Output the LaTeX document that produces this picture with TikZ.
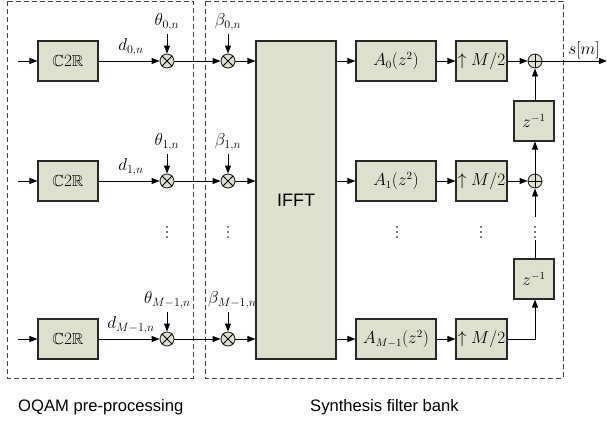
\documentclass[tikz,border=0pt]{standalone}
\usepackage{amssymb}
\usepackage{fontspec}
\setmainfont{Liberation Serif}
\setsansfont{Liberation Sans}
\usetikzlibrary{arrows.meta,calc}
\definecolor{boxfill}{RGB}{221,224,204}
\definecolor{boxline}{RGB}{40,40,40}
\tikzset{
  blk/.style={draw=boxline,fill=boxfill,line width=1.1pt,minimum height=40pt,inner sep=0pt,font=\fontsize{16}{18}\selectfont},
  mix/.style={draw=boxline,fill=boxfill,circle,line width=0.9pt,minimum size=14pt,inner sep=0pt},
  sig/.style={line width=0.9pt,-{Triangle[length=8pt,width=6pt]}},
  wire/.style={line width=0.9pt},
  lab/.style={font=\fontsize{17}{19}\selectfont,inner sep=0pt},
  dframe/.style={draw=black!75,line width=0.9pt,dash pattern=on 5pt off 3pt},
  captxt/.style={font=\sffamily\fontsize{16.6}{18}\selectfont,inner sep=0pt,anchor=west}
}
\begin{document}
\begin{tikzpicture}[x=1pt,y=-1pt]
\useasboundingbox (0,0) rectangle (607,424);
% frames
\draw[dframe] (7,1) rectangle (193,378);
\draw[dframe] (205,1) rectangle (563,378);
\node[captxt] (capA) at (18,407) {OQAM pre-processing};
\node[captxt] (capB) at (310,407) {Synthesis filter bank};
% IFFT
\node[draw=boxline,fill=boxfill,line width=1.1pt,minimum width=80pt,minimum height=318pt,inner sep=0pt,font=\sffamily\fontsize{18}{20}\selectfont] (ifft) at (296,200) {IFFT};
% rows
\foreach \r/\y/\sub in {0/61/0, 1/181/1, 2/339/M-1}{
  \coordinate (in\r) at (18,\y);
  \node[blk,minimum width=60pt] (c\r) at (68,\y) {$\mathbb{C}2\mathbb{R}$};
  \node[mix] (m\r) at (167,\y) {};
  \node[mix] (b\r) at (228,\y) {};
  \coordinate (tt\r) at (167,\y-27);
  \coordinate (bt\r) at (228,\y-27);
  \node[lab,anchor=south] (d\r) at (131,\y-5) {$d_{\sub,n}$};
  \node[blk,minimum width=80pt] (a\r) at (396,\y) {$A_{\sub}(z^2)$};
  \node[blk,minimum width=51pt] (u\r) at (481.5,\y) {$\uparrow M/2$};
  \draw[sig] (in\r) -- (c\r);
  \draw[sig] (c\r) -- (m\r);
  \draw[sig] (tt\r) -- (m\r);
  \draw[sig] (bt\r) -- (b\r);
  \draw[sig] (m\r) -- (b\r);
  \draw[sig] (b\r) -- (b\r -| ifft.west);
  \draw[sig] (a\r.west -| ifft.east) -- (a\r);
  \draw[sig] (a\r) -- (u\r);
}
\foreach \r in {0,1}{
  \node[lab,anchor=south] (th\r) at ($(tt\r)+(0,-3)$) {$\theta_{\r,n}$};
  \node[lab,anchor=south] (be\r) at ($(bt\r)+(0,-3)$) {$\beta_{\r,n}$};
}
\node[lab,anchor=south west] (th2) at ($(tt2)+(-23,-3)$) {$\theta_{M-1,n}$};
\node[lab,anchor=south west] (be2) at ($(bt2)+(-20,-3)$) {$\beta_{M-1,n}$};
% adders
\node[mix] (p0) at (535,61) {};
\node[mix] (p1) at (535,181) {};
\foreach \p in {p0,p1}{
  \draw[wire] (\p.north) -- (\p.south);
  \draw[wire] (\p.west) -- (\p.east);
}
\foreach \m in {m0,m1,m2,b0,b1,b2}{
  \draw[wire] (\m.north west) -- (\m.south east);
  \draw[wire] (\m.north east) -- (\m.south west);
}
\node[blk,minimum width=40pt] (z0) at (534,121) {$z^{-1}$};
\node[blk,minimum width=40pt] (z1) at (534,279) {$z^{-1}$};
\draw[sig] (u0) -- (p0);
\draw[sig] (u1) -- (p1);
\draw[sig] (z0.north -| p0) -- (p0);
\draw[sig] (p1) -- (z0.south -| p1);
\draw[sig] (u2.east) -| (z1.south -| p0);
\coordinate (vtop) at (535,217);
\coordinate (vbot) at (535,240);
\draw[sig] (vtop) -- (p1);
\draw[wire] (z1.north -| p0) -- (vbot);
% output
\coordinate (out) at (607,61);
\draw[sig] (p0) -- (out);
\node[lab] (sm) at (584,50) {$s[m]$};
% dots
\foreach \x in {167,228,397,481,535}{
  \foreach \dy in {-5,0,5}{
    \fill (\x,232+\dy) circle (0.9pt);
  }
}
\end{tikzpicture}
\end{document}
